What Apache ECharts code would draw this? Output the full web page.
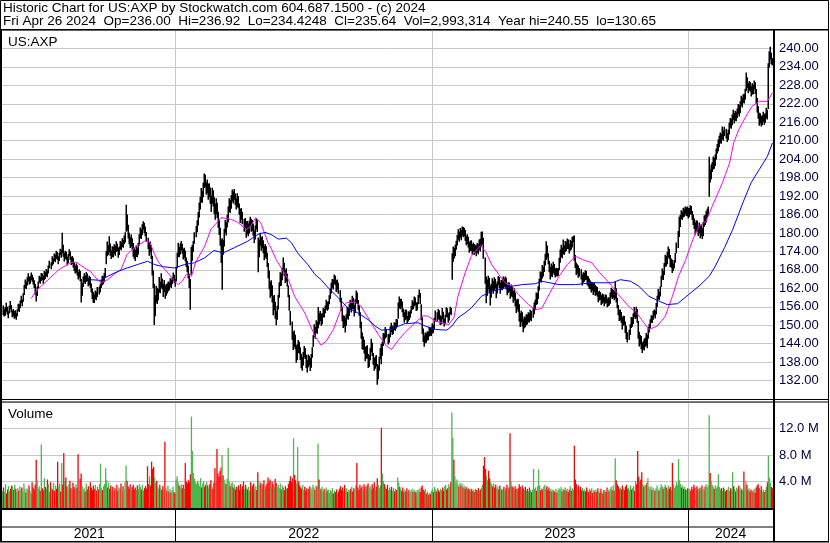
<!DOCTYPE html>
<html><head><meta charset="utf-8">
<script src="https://cdn.jsdelivr.net/npm/echarts@6/dist/echarts.min.js"></script>
<style>html,body{margin:0;padding:0;background:#fff}#c{width:830px;height:543px}</style>
</head><body><div id="c"></div><script>
// ---- header texts ----
const headerLine1 = 'Historic Chart for US:AXP by Stockwatch.com 604.687.1500 - (c) 2024';
const headerLine2 = 'Fri Apr 26 2024  Op=236.00  Hi=236.92  Lo=234.4248  Cl=235.64  Vol=2,993,314  Year hi=240.55  lo=130.65';
const symbolLabel = 'US:AXP';
const volumeLabel = 'Volume';

// ---- x axis (trading days) ----
const yearStarts = [170, 421, 672];
const yearMids = [85, 295, 546, 713];
const yearLabels = ['2021', '2022', '2023', '2024'];

// ---- daily closes ----
const closes = [
155.0,153.6,154.8,156.2,154.1,153.2,155.5,156.8,154.9,153.5,
154.2,152.9,153.8,152.6,154.5,156.3,155.1,157.2,158.4,157.0,
159.5,162.3,163.8,162.6,164.9,165.7,163.9,164.8,166.2,165.0,
164.1,163.0,160.8,159.2,161.9,163.5,165.4,164.2,166.3,165.6,
164.8,166.9,165.7,167.5,166.4,168.7,170.2,169.1,171.3,170.6,
172.4,171.2,173.5,172.1,170.8,172.9,174.1,172.7,175.6,173.0,
171.8,173.4,172.0,170.6,172.5,173.8,171.9,170.4,171.7,170.1,
168.9,167.5,169.2,167.0,165.8,167.4,165.2,160.4,162.8,164.9,
165.8,164.3,166.4,165.1,163.6,165.2,163.0,161.5,160.2,159.1,
158.7,160.5,159.0,161.8,160.9,162.6,163.8,165.4,164.1,166.2,
167.3,172.8,175.4,174.2,176.3,173.9,172.6,174.8,173.5,175.1,
174.0,176.2,175.0,173.4,174.7,176.5,175.3,177.2,176.0,178.1,
178.8,185.5,182.1,179.6,178.0,176.4,177.8,175.9,174.2,173.5,
172.8,174.6,173.3,175.8,178.2,180.4,179.1,181.6,182.9,181.2,
180.0,177.6,176.2,174.5,175.8,172.9,167.4,163.8,155.6,158.2,
161.5,158.3,160.9,163.4,162.0,164.6,163.1,161.4,162.8,160.0,
162.7,161.2,163.5,162.3,164.2,163.0,164.8,165.9,164.6,163.6,
167.8,172.4,174.9,173.1,175.5,176.3,174.0,172.6,173.8,171.5,
170.2,168.6,166.9,163.8,163.1,172.6,173.9,176.2,179.1,180.5,
182.5,185.1,188.4,190.2,192.7,191.5,194.8,197.6,196.3,193.9,
195.7,192.4,194.6,191.3,189.6,193.2,191.0,188.4,186.9,189.7,
186.2,183.5,181.4,178.6,172.5,176.4,174.8,179.5,182.6,181.0,
184.7,186.9,189.5,188.2,190.8,192.4,191.1,193.0,190.5,189.3,
191.6,188.9,187.2,185.0,186.8,183.6,181.9,183.4,180.8,182.5,
180.6,182.9,184.5,181.7,183.0,180.2,178.4,181.1,183.6,181.8,
172.4,176.8,178.3,175.9,177.5,174.6,172.9,175.2,173.0,170.8,
166.5,163.2,160.8,162.4,158.9,155.7,157.3,153.8,151.6,154.9,
158.6,162.4,165.8,164.1,167.5,169.9,167.2,165.0,166.8,163.5,
160.2,155.4,150.8,147.6,144.2,146.5,143.1,140.8,141.9,144.3,
142.0,139.5,138.3,137.4,140.1,142.3,139.7,137.8,136.9,139.4,
138.2,136.4,139.8,141.5,145.6,148.9,147.3,150.4,148.6,152.7,
151.8,153.5,150.9,152.7,154.8,153.2,155.6,157.1,155.4,156.9,
158.6,160.8,162.5,164.1,163.0,165.2,164.4,162.1,163.7,161.9,
158.3,155.2,152.6,150.4,151.9,149.3,152.8,154.6,153.1,155.9,
157.2,155.4,158.6,156.1,154.3,157.7,159.4,158.0,155.8,153.9,
150.2,146.8,143.5,144.9,141.6,139.8,142.4,140.1,137.6,139.3,
141.8,143.5,140.9,138.2,136.5,139.0,137.3,134.2,136.0,138.4,
141.6,139.2,143.8,146.9,145.1,148.3,147.0,144.6,146.2,148.8,
149.5,147.8,148.9,150.2,149.0,151.3,150.6,155.9,157.8,156.4,
157.2,155.0,153.6,152.1,154.3,152.8,151.5,153.9,152.6,154.1,
155.6,157.2,156.0,158.4,157.1,155.3,156.8,158.9,160.2,157.4,
152.3,148.1,146.2,144.8,146.9,145.3,147.2,146.0,148.4,147.5,
147.8,149.4,148.2,151.6,153.4,152.0,154.1,152.7,150.9,152.3,
153.8,151.4,150.2,152.6,154.9,153.1,151.7,153.3,155.0,154.2,
171.5,173.8,172.9,175.6,176.0,178.4,179.9,178.3,180.6,179.2,
181.0,179.5,180.8,178.6,177.2,178.9,176.5,175.1,176.8,175.4,
174.6,176.0,174.2,175.5,173.8,175.9,174.4,176.7,175.2,177.4,
178.1,172.3,164.2,160.5,162.8,165.0,161.9,159.4,162.1,163.7,
161.8,164.5,162.9,160.6,163.4,165.2,163.0,161.7,164.1,162.5,
164.3,163.0,165.1,162.4,160.8,163.2,161.5,159.9,162.0,160.4,
158.9,160.2,157.5,155.8,157.9,156.3,153.1,151.6,153.8,150.9,
149.6,151.9,150.4,152.8,151.2,153.5,152.0,154.1,152.5,155.0,
156.2,156.8,159.5,158.2,161.4,163.9,166.2,165.0,168.3,167.1,
169.8,171.5,174.6,173.2,170.9,168.4,166.7,168.9,167.2,169.5,
167.6,166.1,168.0,166.8,167.5,170.6,172.8,174.5,173.0,175.2,
174.1,176.3,175.0,177.1,175.8,174.6,176.9,175.2,177.6,178.6,
172.4,169.5,167.8,168.9,166.5,167.9,165.8,164.6,166.3,165.2,
167.0,165.6,163.9,164.8,162.5,163.7,161.9,163.2,161.4,162.6,
160.8,161.9,160.2,158.7,160.4,159.1,157.8,159.6,158.3,157.5,
159.2,158.0,156.6,158.4,157.2,159.8,161.0,159.4,160.6,158.9,
161.8,158.6,156.2,154.0,152.7,153.9,151.5,150.3,152.2,150.8,
148.9,147.2,145.8,147.6,149.4,151.8,150.3,152.6,154.1,152.9,
154.8,151.9,147.3,144.6,145.9,143.4,142.1,144.0,143.2,145.1,
146.3,143.8,148.5,149.6,150.7,152.3,151.6,153.4,154.2,153.0,
155.8,158.9,160.4,159.2,161.7,165.3,167.0,166.1,169.4,171.8,
170.5,172.9,174.3,172.1,170.0,170.9,168.4,169.2,170.4,172.7,
175.8,179.4,182.6,184.9,186.3,185.1,187.2,186.0,187.8,186.4,
187.5,185.9,187.0,188.3,186.7,185.4,184.1,182.6,180.9,183.3,
181.8,180.2,182.5,179.6,181.4,179.1,182.8,184.6,183.5,185.9,
186.4,187.2,198.6,197.8,200.9,201.3,203.5,202.2,204.6,206.3,
207.2,209.0,209.5,211.3,210.1,212.6,211.2,213.4,212.0,210.8,
212.4,214.9,216.3,215.2,217.6,218.4,216.9,218.8,217.5,219.6,
220.8,219.5,221.7,223.4,222.1,224.2,223.0,225.8,229.6,228.3,
226.9,228.5,227.0,225.6,227.8,226.4,228.9,227.3,223.1,220.6,
218.4,216.2,217.8,215.3,216.9,218.0,216.4,217.7,219.6,218.2,
233.6,237.4,238.9,237.2,235.64
];

// ---- daily highs ----
const highs = [
156.4,155.2,155.9,157.3,156.0,154.5,156.3,157.9,156.6,154.8,
155.3,154.6,154.9,154.0,155.2,157.0,156.8,158.0,159.6,158.3,
160.4,163.1,164.9,164.2,165.6,166.9,165.8,165.9,167.1,166.4,
165.5,164.6,163.4,161.0,162.6,164.2,166.1,165.7,167.0,166.8,
166.2,167.6,167.3,168.3,167.9,169.4,171.0,170.5,172.4,171.8,
173.3,172.9,174.2,173.8,172.4,173.6,174.9,174.5,180.1,176.2,
173.6,174.2,173.9,172.3,173.1,174.7,174.0,172.2,172.5,171.9,
170.4,169.3,170.1,169.5,167.4,168.2,167.6,165.0,163.7,165.8,
166.9,166.2,167.3,166.8,165.4,166.1,165.7,163.6,161.9,160.8,
160.1,161.3,160.9,162.4,162.5,163.3,164.7,166.1,165.9,167.0,
168.6,174.1,177.2,176.0,178.9,176.6,174.3,175.7,175.4,176.3,
175.9,177.3,176.6,175.2,175.6,177.4,177.0,178.3,177.7,179.2,
180.2,189.2,186.0,182.7,180.1,178.6,179.5,178.3,176.7,175.0,
174.5,175.9,175.2,176.7,179.6,181.8,181.2,182.8,183.8,183.3,
182.1,180.3,178.4,176.9,177.2,176.0,172.6,167.9,163.5,159.8,
162.8,162.2,161.8,165.7,164.1,166.9,165.2,163.5,164.7,162.9,
163.4,163.6,164.2,164.0,165.3,164.8,165.6,167.1,166.4,165.0,
168.9,173.6,176.8,175.4,176.6,177.4,176.5,174.9,175.2,174.3,
172.0,170.9,169.3,166.7,165.0,175.4,176.1,177.4,180.2,182.3,
184.1,186.8,189.9,191.8,194.6,193.7,196.3,199.3,198.9,196.5,
197.4,196.0,196.2,194.8,192.1,194.7,193.9,191.6,189.5,191.3,
189.8,186.9,184.2,181.7,177.9,178.3,177.6,181.3,184.2,183.5,
185.9,188.6,191.3,190.6,192.3,194.1,193.5,194.3,192.8,191.2,
192.9,192.0,189.6,187.8,188.1,186.9,184.5,184.9,183.7,183.9,
183.1,184.0,185.3,184.6,184.2,183.1,180.9,182.4,184.9,184.1,
178.5,177.9,180.1,178.7,178.9,177.6,175.8,176.4,175.7,173.6,
170.2,167.8,164.1,164.6,163.0,159.4,159.8,157.6,154.5,156.3,
159.9,164.0,167.2,166.9,168.7,172.0,170.3,167.9,168.5,166.7,
163.0,159.8,154.6,151.2,147.9,148.3,146.9,143.5,143.8,145.2,
144.6,142.8,140.7,139.6,141.3,143.2,142.5,140.4,138.6,140.5,
140.1,139.3,140.6,142.8,146.7,150.3,149.4,151.6,151.1,155.9,
154.0,154.6,153.7,153.9,155.7,155.3,156.4,158.3,157.6,157.8,
159.7,161.9,163.8,165.0,164.9,166.5,166.1,164.6,164.9,163.8,
161.4,158.9,155.8,153.2,153.1,152.4,153.6,156.0,155.7,156.8,
158.3,157.7,159.6,158.9,156.6,158.4,161.3,160.6,158.2,156.5,
154.2,151.1,147.6,146.3,145.3,142.9,143.2,143.5,140.6,140.2,
142.7,145.6,144.3,141.0,139.3,139.8,140.3,137.4,136.9,139.7,
142.5,143.9,144.6,147.5,147.3,149.4,148.8,147.2,147.0,149.6,
150.8,149.9,149.6,151.0,150.7,152.0,151.9,157.4,159.3,158.5,
158.6,157.7,155.4,154.2,155.0,155.1,153.0,154.5,154.3,154.9,
156.3,158.1,157.6,159.3,159.0,157.4,157.5,159.8,161.6,160.5,
156.8,152.6,148.9,146.7,147.6,147.4,148.0,147.9,149.5,149.2,
149.3,150.6,150.1,152.4,154.8,154.2,155.3,154.9,153.2,153.0,
155.6,154.4,152.1,153.4,155.8,155.5,153.9,154.2,156.0,155.6,
173.4,175.6,175.1,176.2,177.5,179.3,181.2,180.4,181.6,181.0,
182.1,181.9,181.7,181.0,179.1,179.6,178.8,177.0,177.5,177.6,
176.3,176.9,176.4,176.2,175.9,176.7,176.3,177.9,178.1,180.4,
180.5,178.4,172.0,165.8,164.9,166.1,165.4,162.8,163.5,165.3,
164.4,165.6,165.1,163.5,164.2,166.0,165.7,163.9,164.8,164.6,
165.8,165.2,165.8,165.4,163.1,164.0,163.9,162.8,163.2,162.4,
161.1,162.0,160.6,158.3,158.6,158.4,156.8,153.9,154.7,154.2,
151.9,152.8,152.6,153.6,153.4,154.2,154.0,155.0,154.6,155.8,
157.4,158.3,160.6,160.4,162.7,165.1,167.5,167.2,169.6,169.0,
171.0,173.2,177.3,175.9,173.4,171.0,168.9,170.1,169.4,170.6,
169.9,168.4,168.7,168.5,168.6,171.9,174.6,176.2,175.3,177.9,
176.0,177.4,177.1,178.2,177.9,176.3,177.8,177.4,178.7,179.0,
179.2,172.8,170.4,169.8,169.4,168.6,168.2,166.5,167.2,167.0,
167.9,167.6,166.1,165.9,165.2,164.5,164.1,164.0,163.6,163.8,
163.1,162.7,162.4,160.9,161.2,160.8,159.7,160.3,160.1,159.2,
160.0,159.9,158.6,159.1,158.9,160.6,162.2,161.8,161.5,161.0,
164.3,162.0,158.9,156.6,155.1,155.0,154.3,152.6,153.1,153.0,
151.2,149.8,147.7,148.5,150.3,152.7,152.5,153.8,155.9,154.6,
156.0,155.3,151.4,147.9,146.8,146.5,144.4,144.8,145.6,145.9,
147.5,146.9,149.4,150.4,151.9,153.2,153.1,154.6,155.1,154.8,
157.2,159.6,161.8,160.9,162.6,166.1,168.4,167.7,170.2,172.9,
172.4,173.8,175.6,174.9,172.8,171.7,171.3,170.1,171.2,173.5,
176.9,180.6,185.3,185.8,187.4,186.9,188.2,187.9,188.6,188.3,
188.6,188.2,188.1,189.0,188.8,187.1,186.0,184.7,183.4,184.1,
184.0,182.3,183.4,182.7,182.5,181.6,183.6,185.7,185.9,187.1,
187.9,188.6,204.8,200.6,202.3,203.0,204.9,204.4,205.6,207.5,
208.9,210.4,211.6,212.7,212.3,214.6,213.3,214.5,213.9,212.4,
213.6,215.8,217.4,217.1,218.5,220.1,219.0,219.7,219.4,220.5,
221.9,221.6,222.8,224.6,224.0,225.1,225.3,226.9,232.2,230.6,
228.7,229.4,229.1,227.7,228.7,228.2,229.6,229.0,226.8,223.9,
221.2,219.1,218.9,218.0,218.3,219.4,218.6,218.9,220.7,220.1,
235.2,239.1,240.55,238.6,236.92
];

// ---- daily lows ----
const lows = [
153.2,152.8,153.1,154.4,153.5,152.3,153.8,155.2,154.1,152.6,
152.9,152.1,152.4,151.8,152.9,154.6,154.3,155.5,157.1,156.2,
157.6,159.8,162.1,161.7,162.9,164.3,163.2,163.5,164.7,164.1,
163.2,162.1,159.9,157.7,159.5,161.8,163.9,163.5,164.4,164.7,
163.5,164.6,165.0,165.9,165.6,166.8,168.5,168.2,169.3,169.8,
170.9,170.5,171.6,171.3,169.8,170.9,172.8,171.9,173.4,172.3,
170.7,171.5,171.3,169.4,170.2,172.4,171.2,169.6,169.9,168.8,
167.6,166.8,167.1,166.2,164.9,165.5,164.3,157.4,159.6,162.4,
164.0,163.4,164.1,164.3,162.7,163.1,162.2,160.6,158.5,157.3,
157.2,158.4,158.1,159.2,160.0,160.7,162.1,163.0,163.3,164.0,
165.7,169.8,172.4,172.8,173.7,172.6,171.5,172.2,172.0,173.2,
172.6,173.8,174.1,171.9,172.8,174.6,174.4,175.4,175.2,176.3,
176.9,180.4,180.8,178.2,176.3,175.1,175.6,174.7,172.3,171.6,
170.9,172.2,172.1,173.0,175.9,178.3,178.0,179.3,181.1,180.0,
178.9,177.1,174.8,172.6,173.7,171.5,166.2,162.1,150.1,152.9,
157.4,156.9,158.1,160.6,160.4,162.2,161.7,159.2,160.8,158.6,
159.6,160.3,161.0,161.4,162.5,162.1,163.3,164.4,163.8,162.5,
164.2,168.5,172.1,172.2,173.0,174.4,173.2,171.4,171.9,170.8,
168.9,167.2,165.3,162.1,155.0,166.4,171.0,173.8,176.5,178.6,
180.2,182.4,185.0,187.6,189.9,189.8,191.6,194.7,194.8,192.4,
192.9,190.8,191.7,189.5,186.8,189.4,188.6,186.2,184.3,186.1,
184.9,181.7,179.3,175.8,170.2,161.5,172.9,175.6,180.1,179.2,
181.8,183.4,186.8,186.5,187.9,190.2,189.6,190.8,189.1,187.6,
188.4,188.0,185.9,183.2,184.3,182.8,180.4,181.3,178.4,179.6,
178.9,179.8,182.3,180.4,180.6,179.1,176.7,177.9,181.2,180.3,
167.2,172.1,175.8,174.2,175.0,173.4,171.1,172.0,171.6,168.9,
165.3,161.7,158.9,159.6,157.4,153.2,154.9,152.1,150.0,151.8,
155.1,158.9,162.7,162.8,164.6,167.4,166.0,163.7,164.2,162.6,
159.1,154.7,150.0,145.3,141.9,143.0,142.2,137.8,138.6,141.0,
140.8,138.7,136.0,135.2,136.9,139.6,139.0,136.1,134.6,136.3,
137.0,135.1,136.2,139.4,142.9,146.2,145.6,147.5,147.2,149.0,
150.2,151.4,149.8,150.3,152.6,152.5,153.9,155.2,154.7,155.1,
156.8,158.5,160.3,162.2,161.6,163.4,163.0,160.8,161.5,160.2,
157.5,154.6,151.3,149.1,149.6,147.6,149.8,152.1,151.8,153.0,
155.0,154.1,155.2,155.2,152.8,154.0,156.9,156.9,155.0,153.1,
149.0,145.6,142.2,142.0,140.8,138.3,139.1,139.2,136.1,136.4,
138.6,141.2,140.0,137.1,135.2,135.8,136.6,130.65,132.4,135.2,
138.9,137.3,140.1,143.2,144.0,145.6,146.1,143.7,144.3,146.1,
147.8,146.8,147.1,148.4,148.2,148.9,149.5,152.1,155.6,155.2,
155.6,154.2,152.7,150.8,151.6,151.9,150.6,151.2,151.7,152.4,
153.8,155.0,155.2,156.1,156.4,154.6,154.9,156.8,158.9,156.9,
151.6,147.2,144.5,143.0,144.1,144.3,145.0,145.1,146.3,146.6,
146.5,147.3,147.4,148.6,151.2,151.1,152.0,151.6,150.1,150.2,
151.9,150.5,149.6,150.3,152.7,152.5,150.8,151.5,153.6,153.2,
164.8,170.6,171.7,172.4,174.5,175.9,177.8,177.1,178.4,177.6,
179.1,178.6,178.9,177.5,176.0,176.4,175.3,173.6,174.1,174.2,
173.0,173.9,172.8,173.5,172.4,173.6,173.1,174.5,174.0,175.6,
176.3,171.6,163.5,157.1,159.6,161.7,160.8,156.4,158.9,161.2,
160.2,161.3,161.9,158.8,160.3,163.1,162.1,160.2,161.6,161.4,
162.0,162.4,162.3,161.6,159.7,160.5,160.9,158.6,159.4,159.1,
157.3,158.1,156.2,154.0,155.1,154.4,151.2,149.4,151.0,149.6,
147.7,148.9,149.3,150.0,150.2,151.0,150.9,151.6,151.3,152.4,
153.6,154.9,156.6,156.8,158.5,161.3,164.0,163.9,165.2,165.8,
167.3,169.4,171.2,172.0,169.8,167.2,164.9,165.8,165.6,167.0,
166.3,165.5,165.9,165.8,166.1,167.9,170.3,172.1,171.8,173.1,
172.9,173.7,174.1,174.8,174.7,173.3,174.2,174.5,175.3,177.0,
171.0,168.6,166.3,166.7,165.4,165.8,164.9,162.9,163.8,164.1,
164.6,164.8,163.1,162.6,161.8,161.7,160.6,161.2,159.8,160.8,
159.6,159.9,159.3,157.5,158.0,158.2,156.6,157.0,157.4,156.2,
157.0,157.3,155.8,156.2,156.4,157.0,159.1,158.5,158.9,158.1,
158.7,157.4,155.5,153.2,151.4,151.6,150.8,148.6,149.9,150.0,
147.5,145.4,144.4,145.2,146.8,149.1,149.5,150.4,152.7,152.0,
152.3,150.8,145.6,143.1,143.7,142.2,141.0,142.1,141.8,143.0,
143.4,142.5,145.6,147.6,149.0,150.8,150.7,151.8,152.9,152.2,
153.6,155.9,158.4,158.1,159.3,162.4,164.9,164.7,166.3,169.0,
169.1,169.8,172.0,171.5,168.9,168.7,167.0,167.6,168.5,170.3,
173.4,175.1,178.7,181.9,184.5,184.2,185.0,185.3,186.1,185.5,
185.4,184.7,185.2,186.1,185.9,184.3,182.6,181.3,179.4,180.2,
180.5,179.0,179.9,178.3,179.1,178.0,178.9,182.0,182.6,183.4,
184.9,185.7,191.8,196.4,197.5,199.8,200.6,200.9,201.8,203.9,
205.8,206.6,207.9,209.2,209.0,210.4,210.0,211.5,210.7,209.6,
210.2,212.0,214.3,213.9,215.0,216.8,215.6,216.5,216.3,217.4,
218.6,217.9,219.0,221.4,220.8,222.3,222.1,223.4,226.2,227.1,
225.4,226.3,225.9,224.4,225.0,225.1,226.7,225.2,222.0,219.2,
217.1,214.9,215.6,214.6,215.0,216.2,215.2,215.8,217.3,216.9,
220.3,233.8,236.4,234.9,234.42
];

// ---- daily volume (millions) ----
const volumes = [
2.6,3.1,2.4,3.6,2.2,2.8,3.3,2.5,2.9,3.4,
3.2,2.7,3.5,2.9,2.4,3.0,2.6,3.3,2.8,3.1,
2.5,3.7,2.9,2.3,3.0,2.7,3.4,2.6,2.2,3.9,
3.1,2.8,3.5,7.3,4.2,2.9,3.3,2.6,9.6,3.0,
2.7,4.5,3.2,2.9,4.3,3.6,2.4,3.9,3.1,2.8,
3.8,2.6,3.4,2.9,7.0,3.2,3.7,2.5,6.8,3.5,
8.3,3.9,4.6,3.3,2.8,3.6,4.1,3.0,2.7,3.8,
3.2,2.9,3.6,3.1,8.1,2.7,4.4,5.2,3.4,2.8,
3.0,2.5,3.7,2.8,3.3,2.6,3.9,3.1,2.7,3.4,
2.9,3.5,2.6,3.2,2.8,3.6,6.7,3.0,2.7,3.3,
3.6,6.0,4.2,3.1,3.8,2.9,3.4,2.7,3.2,2.6,
3.0,2.8,3.5,2.6,3.1,2.9,3.7,2.5,3.3,2.8,
3.9,6.4,4.1,3.3,2.9,3.6,2.7,3.2,3.5,2.8,
3.1,2.7,3.4,2.9,3.6,3.2,2.8,3.5,2.6,3.0,
3.3,2.9,6.3,3.6,4.8,3.4,7.0,5.9,6.2,4.6,
3.8,4.1,3.2,2.9,3.5,3.0,2.7,3.3,2.8,10.0,
3.1,2.6,3.4,2.5,2.9,2.3,2.7,3.2,2.4,2.2,
4.3,4.8,3.9,3.4,3.1,3.6,3.0,3.5,2.9,6.8,
4.0,3.7,4.2,3.9,5.1,13.8,8.6,5.3,4.4,3.9,
3.6,4.1,3.8,3.3,4.5,3.1,3.7,4.0,3.2,3.5,
3.9,3.4,3.0,3.6,4.2,3.3,2.9,3.8,6.0,4.1,
8.9,5.2,4.7,5.6,6.1,8.0,4.9,4.3,3.8,3.6,
4.4,9.1,4.0,3.3,3.7,3.9,3.1,3.5,2.8,3.2,
3.0,3.4,2.7,3.6,2.9,3.3,4.0,2.8,3.5,3.1,
2.8,3.2,2.6,3.9,3.0,3.4,3.7,2.9,3.3,2.7,
5.4,4.1,3.5,3.8,3.1,3.6,4.2,2.9,3.4,3.7,
4.6,3.9,4.3,3.3,4.0,3.6,3.1,4.4,3.8,3.2,
3.5,3.0,3.7,2.8,3.4,3.1,2.7,3.3,2.9,3.0,
3.6,4.1,4.8,3.9,4.5,10.5,5.0,4.2,3.7,9.2,
4.0,3.4,3.1,2.9,3.5,2.7,3.2,2.6,3.0,2.8,
2.9,3.3,2.6,3.0,3.5,3.1,2.7,3.4,3.2,9.7,
4.3,3.0,2.8,3.2,2.5,2.9,2.4,3.1,2.6,2.8,
2.3,2.7,2.5,3.0,2.2,2.6,2.4,2.8,2.1,2.5,
2.9,3.3,2.7,3.1,2.6,3.5,2.8,3.0,2.4,2.7,
2.6,2.9,3.2,2.5,3.0,2.8,3.4,6.8,3.1,2.7,
3.5,3.0,3.3,2.8,3.6,3.2,2.9,3.4,3.7,3.1,
3.3,2.8,3.6,3.0,3.9,2.7,3.2,4.5,3.5,3.0,
3.4,12.1,5.2,4.1,3.6,3.2,2.9,3.5,2.7,3.1,
2.8,3.2,2.6,3.0,2.5,2.9,2.7,4.6,3.8,3.2,
2.9,2.6,3.1,2.4,2.8,2.5,3.0,2.3,2.7,2.5,
2.6,2.9,2.4,2.8,2.5,2.3,2.7,2.6,2.9,2.4,
3.1,3.4,2.8,2.6,2.9,2.2,2.5,2.0,2.3,2.1,
2.6,2.9,2.4,3.2,2.8,2.5,3.0,2.7,2.4,2.9,
2.7,3.1,2.6,3.3,3.5,2.8,3.0,3.6,3.2,3.9,
14.4,10.6,7.3,4.8,3.9,4.3,3.6,3.2,3.8,3.4,
3.7,3.1,3.4,2.9,3.2,2.7,3.0,2.8,2.5,2.9,
2.6,2.8,2.4,2.9,2.7,2.5,3.0,2.6,2.8,3.1,
3.5,6.4,7.7,5.9,4.9,4.2,5.6,4.5,3.9,3.6,
3.3,3.7,3.1,3.5,2.9,3.2,2.8,3.4,3.0,2.7,
2.9,3.2,2.6,3.0,3.5,2.8,3.1,11.3,4.0,3.3,
3.1,2.7,3.3,2.9,2.6,3.0,3.6,3.2,2.8,3.4,
3.0,2.7,3.2,2.6,2.9,2.5,3.1,2.7,2.4,2.8,
5.9,2.9,3.1,2.6,3.3,5.8,3.4,2.7,3.0,2.8,
3.2,3.5,2.9,3.3,2.7,3.1,2.6,2.9,2.5,2.8,
2.6,2.4,2.9,2.3,2.7,3.0,2.8,3.2,2.5,2.9,
2.7,3.1,2.6,2.9,2.4,2.8,3.3,2.6,3.0,2.7,
9.4,4.3,3.6,3.1,3.4,2.9,3.2,2.7,3.0,2.6,
2.8,2.5,3.1,2.7,2.4,2.9,2.6,3.0,2.3,2.7,
2.5,2.8,2.4,3.0,2.6,2.3,2.9,2.5,2.2,2.7,
2.6,2.4,3.1,2.8,2.5,2.9,3.2,2.7,3.4,2.6,
7.5,4.2,3.6,3.3,2.9,3.1,2.8,3.4,3.0,2.7,
3.2,3.5,2.9,3.1,2.7,3.4,2.8,3.0,3.3,2.6,
4.1,3.6,8.6,4.7,3.9,4.3,5.4,3.6,3.2,3.5,
3.4,3.8,4.5,3.2,2.9,3.3,2.7,3.1,2.8,2.6,
3.0,3.4,2.8,2.6,3.1,3.6,3.3,2.9,3.2,3.5,
3.1,2.8,3.4,2.9,3.2,2.7,6.8,3.6,3.0,3.3,
3.9,3.5,7.4,4.2,3.6,3.1,3.4,2.9,3.2,2.8,
2.7,3.0,2.5,2.9,2.6,3.2,2.8,3.5,3.1,2.7,
3.3,2.9,2.6,3.1,2.8,3.4,3.0,2.7,3.2,3.6,
3.1,3.4,14.0,5.3,4.1,3.5,3.2,2.9,3.4,3.0,
3.3,5.1,3.2,2.8,3.0,2.6,3.1,2.9,2.5,2.7,
2.8,3.2,2.6,3.0,2.7,5.4,3.3,2.9,2.5,3.1,
2.9,3.4,2.7,3.1,2.8,2.6,5.5,3.2,4.0,3.5,
2.7,3.0,2.5,2.8,2.4,2.6,2.9,2.3,3.1,3.4,
3.6,3.0,2.7,3.3,2.5,2.8,2.4,2.7,3.2,3.9,
7.9,4.6,3.8,3.2,2.99
];

// ---- moving averages: [day, value] ----
const maShort = [
[28,158.7],[34,161.5],[47,165.5],[55,168.0],[67,170.4],[72,170.5],[80,168.7],[86,167.5],[93,164.8],[96,163.8],
[103,164.8],[109,166.5],[116,168.1],[122,173.0],[129,175.2],[139,177.3],[144,177.1],[149,173.0],[153,170.4],[162,167.0],
[167,164.8],[172,163.2],[176,164.3],[180,166.5],[185,165.9],[189,170.4],[198,175.7],[204,181.1],[211,183.8],[214,185.0],
[224,184.4],[230,183.5],[239,181.1],[243,182.2],[248,185.0],[253,183.2],[260,176.8],[263,175.1],[268,171.3],[280,164.8],
[286,159.4],[296,154.0],[306,146.4],[312,143.5],[317,144.8],[324,148.6],[332,155.6],[337,157.3],[345,157.5],[351,156.2],
[358,152.4],[368,147.0],[376,143.2],[381,142.1],[388,145.3],[394,147.6],[404,150.8],[412,153.1],[417,152.9],[424,151.3],
[430,150.8],[437,150.2],[442,152.4],[446,159.4],[453,167.0],[459,172.4],[468,175.9],[473,174.0],[479,169.7],[486,166.5],
[492,163.8],[499,162.7],[505,160.0],[515,156.7],[522,155.1],[528,155.4],[536,160.5],[545,165.9],[553,169.7],[561,172.4],
[568,171.3],[577,170.3],[585,167.0],[594,163.8],[603,160.0],[613,156.2],[621,154.0],[628,150.8],[633,148.6],[641,149.7],
[649,152.9],[656,159.4],[662,165.9],[669,171.3],[676,177.9],[682,182.2],[689,183.8],[695,188.7],[705,196.3],[712,202.8],
[716,209.3],[721,213.6],[728,217.9],[734,221.2],[741,222.8],[749,222.8],[754,225.6]
];
const maLong = [
[86,164.8],[96,164.6],[103,165.9],[113,167.5],[122,168.6],[132,169.7],[142,170.8],[149,169.7],[158,169.0],[168,168.6],
[178,169.7],[188,170.3],[198,171.9],[207,174.3],[216,173.5],[227,175.2],[240,177.3],[250,179.5],[257,180.2],[263,179.5],
[270,178.0],[278,178.3],[283,176.8],[289,173.5],[299,169.7],[306,166.5],[312,164.8],[319,162.1],[329,158.9],[338,155.6],
[348,154.0],[358,151.8],[365,149.7],[371,148.4],[381,148.6],[388,149.7],[394,150.5],[407,150.8],[414,149.7],[424,148.6],
[435,148.4],[440,149.7],[446,152.4],[453,154.0],[459,155.6],[469,159.4],[479,161.0],[489,161.8],[499,162.7],[509,163.2],
[522,163.5],[528,164.3],[545,163.2],[561,163.2],[577,163.8],[597,163.8],[605,164.8],[615,164.3],[623,162.7],[633,159.4],
[643,157.8],[651,156.7],[661,157.0],[672,160.0],[682,162.7],[692,165.9],[698,169.2],[707,175.2],[715,181.1],[725,189.8],
[733,196.3],[741,200.6],[749,204.9],[754,209.3]
];

// ---- build chart ----
const FONT = "'Liberation Sans', Arial, sans-serif";
const days = closes.map((_, i) => String(i));
const barData = highs.map((h, i) => [i, h, lows[i]]);
const volData = volumes.map((v, i) => ({
  value: v,
  itemStyle: { color: (i > 0 && closes[i] < closes[i - 1]) ? '#ff0000' : '#4cb84c' }
}));
const isYearStart = (idx) => yearStarts.indexOf(idx) >= 0;

const chart = echarts.init(document.getElementById('c'), null, { renderer: 'canvas' });
const txt = (t, left, top, size) => ({
  text: t, left: left, top: top, padding: 0,
  textStyle: { fontSize: size, fontWeight: 'normal', color: '#000', fontFamily: FONT }
});

chart.setOption({
  animation: false,
  backgroundColor: '#fff',
  title: [
    txt(headerLine1, 3, 1.5, 13.5),
    txt(headerLine2, 3, 14.5, 13.5),
    txt(symbolLabel, 8, 35, 13.5),
    txt(volumeLabel, 8, 407, 13.5)
  ],
  grid: [
    { left: 2, top: 30, width: 771, height: 369 },
    { left: 2, top: 402, width: 771, height: 106 },
    { left: 2, top: 509, width: 771, height: 32 }
  ],
  xAxis: [0, 1, 2].map(g => ({
    type: 'category', gridIndex: g, data: days, boundaryGap: true,
    axisLine: { show: false }, axisTick: { show: false },
    axisLabel: g === 2 ? {
      show: true, inside: true, margin: 0,
      interval: (idx) => yearMids.indexOf(idx) >= 0,
      formatter: (v, idx) => yearLabels[yearMids.indexOf(Number(v))] || '',
      fontSize: 14, color: '#000', fontFamily: FONT
    } : { show: false },
    splitLine: {
      show: true, interval: (idx) => isYearStart(idx),
      lineStyle: { color: g === 2 ? '#000' : '#c8c8c8', width: 1 }
    }
  })),
  yAxis: [
    {
      type: 'value', gridIndex: 0, position: 'right', min: 126, max: 246, interval: 6,
      axisLine: { show: false }, axisTick: { show: false },
      axisLabel: { margin: 6, fontSize: 13, color: '#000040', fontFamily: FONT,
        formatter: v => (v < 130 || v > 242) ? '' : v.toFixed(2) },
      splitLine: { lineStyle: { color: '#c8c8c8', width: 1 } }
    },
    {
      type: 'value', gridIndex: 1, position: 'right', min: 0, max: 16, interval: 4,
      axisLine: { show: false }, axisTick: { show: false },
      axisLabel: { margin: 6, fontSize: 13, color: '#000040', fontFamily: FONT,
        formatter: v => (v > 0 && v < 16) ? v.toFixed(1) + ' M' : '' },
      splitLine: { lineStyle: { color: '#c8c8c8', width: 1 } }
    },
    { type: 'value', gridIndex: 2, show: false, min: 0, max: 1, splitLine: { show: false } }
  ],
  series: [
    {
      type: 'custom', xAxisIndex: 0, yAxisIndex: 0, data: barData,
      encode: { x: 0, y: [1, 2] }, clip: true, z: 3,
      renderItem: (params, api) => {
        const i = api.value(0);
        const p1 = api.coord([i, api.value(1)]);
        const p2 = api.coord([i, api.value(2)]);
        return { type: 'rect',
          shape: { x: Math.round(p1[0]) - 0.5, y: p1[1], width: 1.5, height: Math.max(1, p2[1] - p1[1]) },
          style: { fill: '#000' } };
      }
    },
    {
      type: 'line', xAxisIndex: 0, yAxisIndex: 0, data: maShort, showSymbol: false, symbol: 'none',
      lineStyle: { color: '#ff00ff', width: 1 }, z: 4
    },
    {
      type: 'line', xAxisIndex: 0, yAxisIndex: 0, data: maLong, showSymbol: false, symbol: 'none',
      lineStyle: { color: '#0000ff', width: 1 }, z: 4
    },
    {
      type: 'bar', xAxisIndex: 1, yAxisIndex: 1, data: volData,
      barCategoryGap: '0%', barWidth: 1.3, z: 3
    }
  ],
  graphic: [
    { type: 'rect', z: 100, shape: { x: 0.5, y: 0.5, width: 828, height: 541 }, style: { fill: null, stroke: '#000', lineWidth: 1 } },
    { type: 'rect', z: 100, shape: { x: 0, y: 29, width: 829, height: 1.5 }, style: { fill: '#000' } },
    { type: 'rect', z: 100, shape: { x: 0, y: 29, width: 2, height: 513 }, style: { fill: '#000' } },
    { type: 'rect', z: 100, shape: { x: 773, y: 29, width: 2, height: 513 }, style: { fill: '#000' } },
    { type: 'rect', z: 100, shape: { x: 0, y: 399, width: 829, height: 1 }, style: { fill: '#000' } },
    { type: 'rect', z: 100, shape: { x: 0, y: 401.5, width: 829, height: 1 }, style: { fill: '#000' } },
    { type: 'rect', z: 100, shape: { x: 0, y: 508, width: 775, height: 2 }, style: { fill: '#000' } },
    { type: 'rect', z: 100, shape: { x: 0, y: 526.5, width: 775, height: 1 }, style: { fill: '#000' } },
    { type: 'rect', z: 100, shape: { x: 0, y: 541, width: 829, height: 1.5 }, style: { fill: '#000' } }
  ]
});
</script></body></html>
